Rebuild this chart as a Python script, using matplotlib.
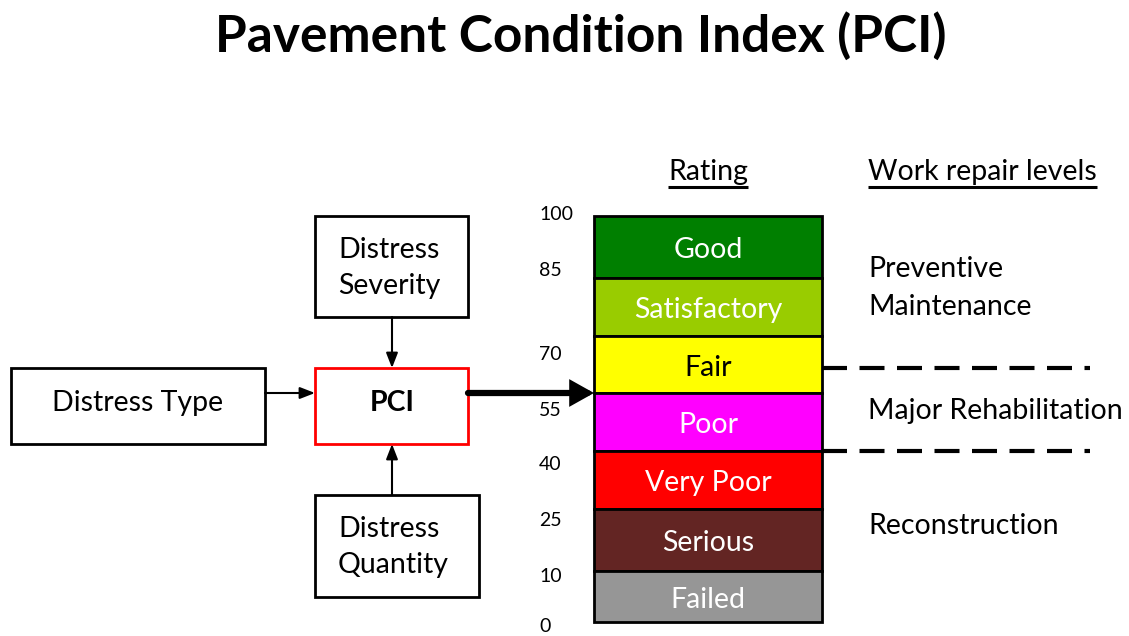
import matplotlib.pyplot as plt
from matplotlib.patches import Rectangle

plt.rcParams['font.family'] = ['Lato', 'DejaVu Sans']

# data
ratings = ["Good", "Satisfactory", "Fair", "Poor", "Very Poor", "Serious", "Failed"]
rating_colors = ["#007f00", "#99cc00", "#ffff00", "#ff00ff", "#ff0000", "#632523", "#969696"]
rating_text_colors = ["white", "white", "black", "white", "white", "white", "white"]
pci_ticks = ["100", "85", "70", "55", "40", "25", "10", "0"]
repair_levels = ["Preventive\nMaintenance", "Major Rehabilitation", "Reconstruction"]

# layout (pixels, origin top-left)
W, H = 1129, 636
band_edges = [216, 278, 336, 393, 451, 509, 571, 622]
bar_left, bar_right = 594, 822
tick_y = [215, 271, 354, 410, 464, 521, 576, 627]
repair_y = [288, 411, 526]
dash_y = [368, 451]

fig = plt.figure(figsize=(W / 100, H / 100), dpi=100)
ax = fig.add_axes([0, 0, 1, 1])
ax.set_xlim(0, W)
ax.set_ylim(H, 0)
ax.axis('off')

FS = 20.5

ax.text(W / 2 + 16, 36, "Pavement Condition Index (PCI)", ha='center', va='center',
        fontsize=37, fontweight='bold')

# rating column
tops = band_edges[:-1]
heights = [b - t for t, b in zip(band_edges[:-1], band_edges[1:])]
ax.bar((bar_left + bar_right) / 2, heights, bottom=tops, width=bar_right - bar_left,
       color=rating_colors, edgecolor='black', linewidth=2, zorder=2)
for name, t, h, tc in zip(ratings, tops, heights, rating_text_colors):
    ax.text((bar_left + bar_right) / 2, t + h / 2 + 3, name, ha='center', va='center',
            fontsize=FS, color=tc, zorder=3)

for lab, y in zip(pci_ticks, tick_y):
    ax.text(539, y, lab, ha='left', va='center', fontsize=14)

# headers with underline
def underlined(x, y, s, ha):
    t = ax.text(x, y, s, ha=ha, va='center', fontsize=FS)
    fig.canvas.draw()
    bb = t.get_window_extent().transformed(ax.transData.inverted())
    x0, x1 = sorted([bb.x0, bb.x1])
    ax.plot([x0, x1], [187, 187], color='black', lw=2.2, solid_capstyle='butt')

underlined((bar_left + bar_right) / 2, 172, "Rating", 'center')
underlined(868, 172, "Work repair levels", 'left')

for s, y in zip(repair_levels, repair_y):
    ax.text(868, y, s, ha='left', va='center', fontsize=FS, linespacing=1.6)

for y in dash_y:
    ax.plot([bar_right, 1090], [y, y], color='black', lw=3, dashes=(6, 3), zorder=1)

# flow boxes
def box(x0, y0, x1, y1, ec='black'):
    ax.add_patch(Rectangle((x0, y0), x1 - x0, y1 - y0, fill=False, ec=ec, lw=2, zorder=2))

box(11, 368, 265, 444)
ax.text(138, 403, "Distress Type", ha='center', va='center', fontsize=FS)
box(315, 216, 468, 317)
ax.text(338, 268, "Distress\nSeverity", ha='left', va='center', fontsize=FS, linespacing=1.5)
box(315, 368, 468, 444, ec='#ff0000')
ax.text(392, 403, "PCI", ha='center', va='center', fontsize=FS, fontweight='bold')
box(315, 495, 479, 597)
ax.text(338, 547, "Distress\nQuantity", ha='left', va='center', fontsize=FS, linespacing=1.5)

arrow = dict(arrowstyle='-|>,head_length=0.9,head_width=0.35', color='black', lw=1.5,
             shrinkA=0, shrinkB=0)
ax.annotate("", xy=(315, 393), xytext=(265, 393), arrowprops=arrow)
ax.annotate("", xy=(392, 368), xytext=(392, 317), arrowprops=arrow)
ax.annotate("", xy=(392, 444), xytext=(392, 495), arrowprops=arrow)
ax.annotate("", xy=(594, 393), xytext=(468, 393),
            arrowprops=dict(arrowstyle='-|>,head_length=0.5,head_width=0.28', color='black',
                            lw=4.5, shrinkA=0, shrinkB=0, mutation_scale=22,
                            joinstyle='miter'))

fig.savefig("out.png", dpi=100)
